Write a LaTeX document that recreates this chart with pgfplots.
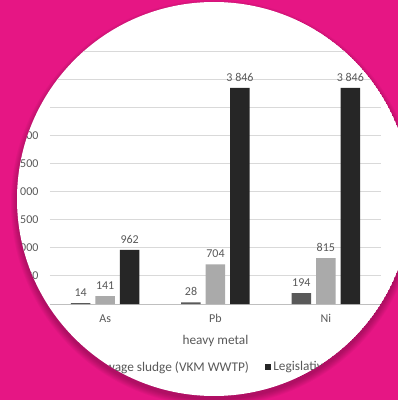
\documentclass[border=0pt]{standalone}
\usepackage{fontspec}
\setmainfont{Carlito}
\usepackage{pgfplots}
\usepackage{pgfplotstable}
\pgfplotsset{compat=1.18}

\definecolor{pinkbg}{RGB}{230,22,132}
\definecolor{labelgray}{RGB}{89,89,89}
\definecolor{gridgray}{RGB}{217,217,217}
\definecolor{axisgray}{RGB}{191,191,191}
\definecolor{sludgeA}{RGB}{89,89,89}
\definecolor{sludgeB}{RGB}{170,170,170}
\definecolor{limitC}{RGB}{38,38,38}

% heavy metal content (mg/kg dry matter)
\pgfplotstableread{
idx metal lit vkm limit
0 As 14 141 962
1 Pb 28 704 3846
2 Ni 194 815 3846
}\metals

\newcommand{\chartfont}{\fontsize{12}{14}\selectfont}
\newcommand{\titlefont}{\fontsize{13.3}{15}\selectfont}

\begin{document}
\begin{tikzpicture}
\useasboundingbox (0pt,0pt) rectangle (398pt,400pt);
\fill[pinkbg] (0pt,0pt) rectangle (398pt,400pt);
% soft shadow under the round panel
\foreach \k in {1,...,7} {
  \fill[black,opacity=0.035] (214pt,197pt) circle ({196pt+\k pt});
}
\begin{scope}
\clip (214pt,201pt) circle (197pt);
\fill[white] (214pt,201pt) circle (197pt);
\begin{axis}[
  at={(50pt,96pt)}, anchor=south west,
  scale only axis, width=331pt, height=253pt,
  xmin=-0.5, xmax=2.5, ymin=0, ymax=4500,
  xtick={0,1,2}, xticklabels={As,Pb,Ni},
  ytick={0,500,...,4500},
  axis x line*=bottom, axis y line*=left,
  y axis line style={draw=none},
  x axis line style={axisgray, line width=0.8pt},
  major tick length=0pt,
  ymajorgrids, grid style={gridgray, line width=0.8pt},
  tick label style={font=\chartfont, text=labelgray},
  yticklabel style={xshift=-8pt},
  xticklabel style={yshift=-7pt},
  /pgf/number format/assume math mode=true,
  /pgf/number format/1000 sep={\ },
  /pgf/number format/fixed, /pgf/number format/precision=0,
  xlabel={heavy metal},
  xlabel style={font=\titlefont, text=labelgray, at={(axis description cs:0.5,-0.146)}, anchor=center},
  ybar, bar width=19.5pt,
  nodes near coords,
  nodes near coords style={font=\chartfont, text=labelgray, yshift=3pt},
  legend columns=3,
  legend style={draw=none, fill=none, font=\titlefont, text=labelgray,
    at={(-0.48,-0.249)}, anchor=west,
    /tikz/every even column/.append style={column sep=14pt}},
  legend image code/.code={\fill[#1] (0pt,-3.2pt) rectangle (6.5pt,3.2pt);},
]
\addplot[fill=sludgeA, draw=none, bar shift=-24.5pt] table[x=idx, y=lit] {\metals};
\addplot[fill=sludgeB, draw=none, bar shift=0pt] table[x=idx, y=vkm] {\metals};
\addplot[fill=limitC, draw=none, bar shift=24.5pt] table[x=idx, y=limit] {\metals};
\legend{Raw sewage sludge (literature), Sewage sludge (VKM WWTP), Legislative limit}
\end{axis}
\end{scope}
\end{tikzpicture}
\end{document}
